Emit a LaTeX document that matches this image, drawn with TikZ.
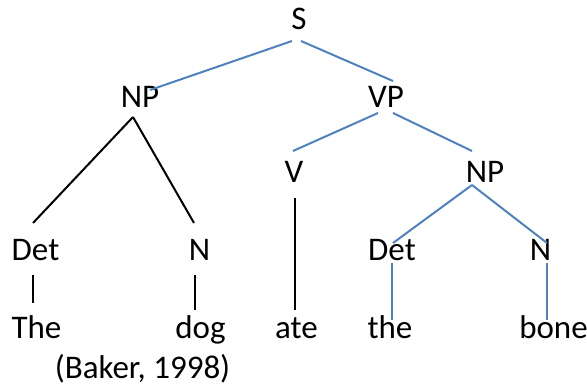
\documentclass[tikz,border=0pt]{standalone}
\usepackage{fontspec}
\setmainfont{Carlito}
\definecolor{accent}{RGB}{79,129,189}

\begin{document}
\begin{tikzpicture}[x=1pt, y=-1pt,
    word/.style={anchor=base, inner sep=0pt, font=\fontsize{33}{39}\selectfont},
    plain/.style={line width=2pt, black},
    accentline/.style={line width=2pt, accent}]
   \useasboundingbox (0,0) rectangle (587,385);

   % nodes
   \node[word] (s) at (299, 30) {S};
   \node[word] (npl) at (140, 108) {NP};
   \node[word] (vp) at (386, 108) {VP};
   \node[word] (v) at (294, 183) {V};
   \node[word] (npr) at (485, 183) {NP};
   \node[word] (detl) at (35.5, 261) {Det};
   \node[word] (nl) at (199.5, 261) {N};
   \node[word] (detr) at (392, 261) {Det};
   \node[word] (nr) at (540.5, 261) {N};
   \node[word] (the) at (36.5, 338) {The};
   \node[word] (dog) at (200.5, 338) {dog};
   \node[word] (ate) at (296.5, 338) {ate};
   \node[word] (thetwo) at (390, 338) {the};
   \node[word] (bone) at (553.5, 338) {bone};
   \node[word] (cite) at (142.5, 378) {(Baker, 1998)};

   % branches
   \draw[accentline] ([shift={(-7,11)}]s.base) -- ([shift={(10,-18)}]npl.base);
   \draw[accentline] ([shift={(2,11)}]s.base) -- ([shift={(7,-27)}]vp.base);
   \draw[plain] ([shift={(-7,9)}]npl.base) -- ([shift={(-2.5,-38)}]detl.base);
   \draw[plain] ([shift={(-7,9)}]npl.base) -- ([shift={(-5.5,-38)}]nl.base);
   \draw[plain] ([shift={(-2.5,14)}]detl.base) -- ([shift={(-3.5,-35)}]the.base);
   \draw[plain] ([shift={(-4.5,14)}]nl.base) -- ([shift={(-5.5,-28)}]dog.base);
   \draw[accentline] ([shift={(-8,5)}]vp.base) -- ([shift={(-1,-32)}]v.base);
   \draw[accentline] ([shift={(7,5)}]vp.base) -- ([shift={(-13,-32)}]npr.base);
   \draw[plain] ([shift={(1,15)}]v.base) -- ([shift={(-1.5,-28)}]ate.base);
   \draw[accentline] ([shift={(-13,2)}]npr.base) -- ([shift={(1,-18)}]detr.base);
   \draw[accentline] ([shift={(-13,2)}]npr.base) -- ([shift={(6.5,-18)}]nr.base);
   \draw[accentline] ([shift={(0,2)}]detr.base) -- ([shift={(2,-18)}]thetwo.base);
   \draw[accentline] ([shift={(6.5,2)}]nr.base) -- ([shift={(-6.5,-18)}]bone.base);
\end{tikzpicture}
\end{document}
